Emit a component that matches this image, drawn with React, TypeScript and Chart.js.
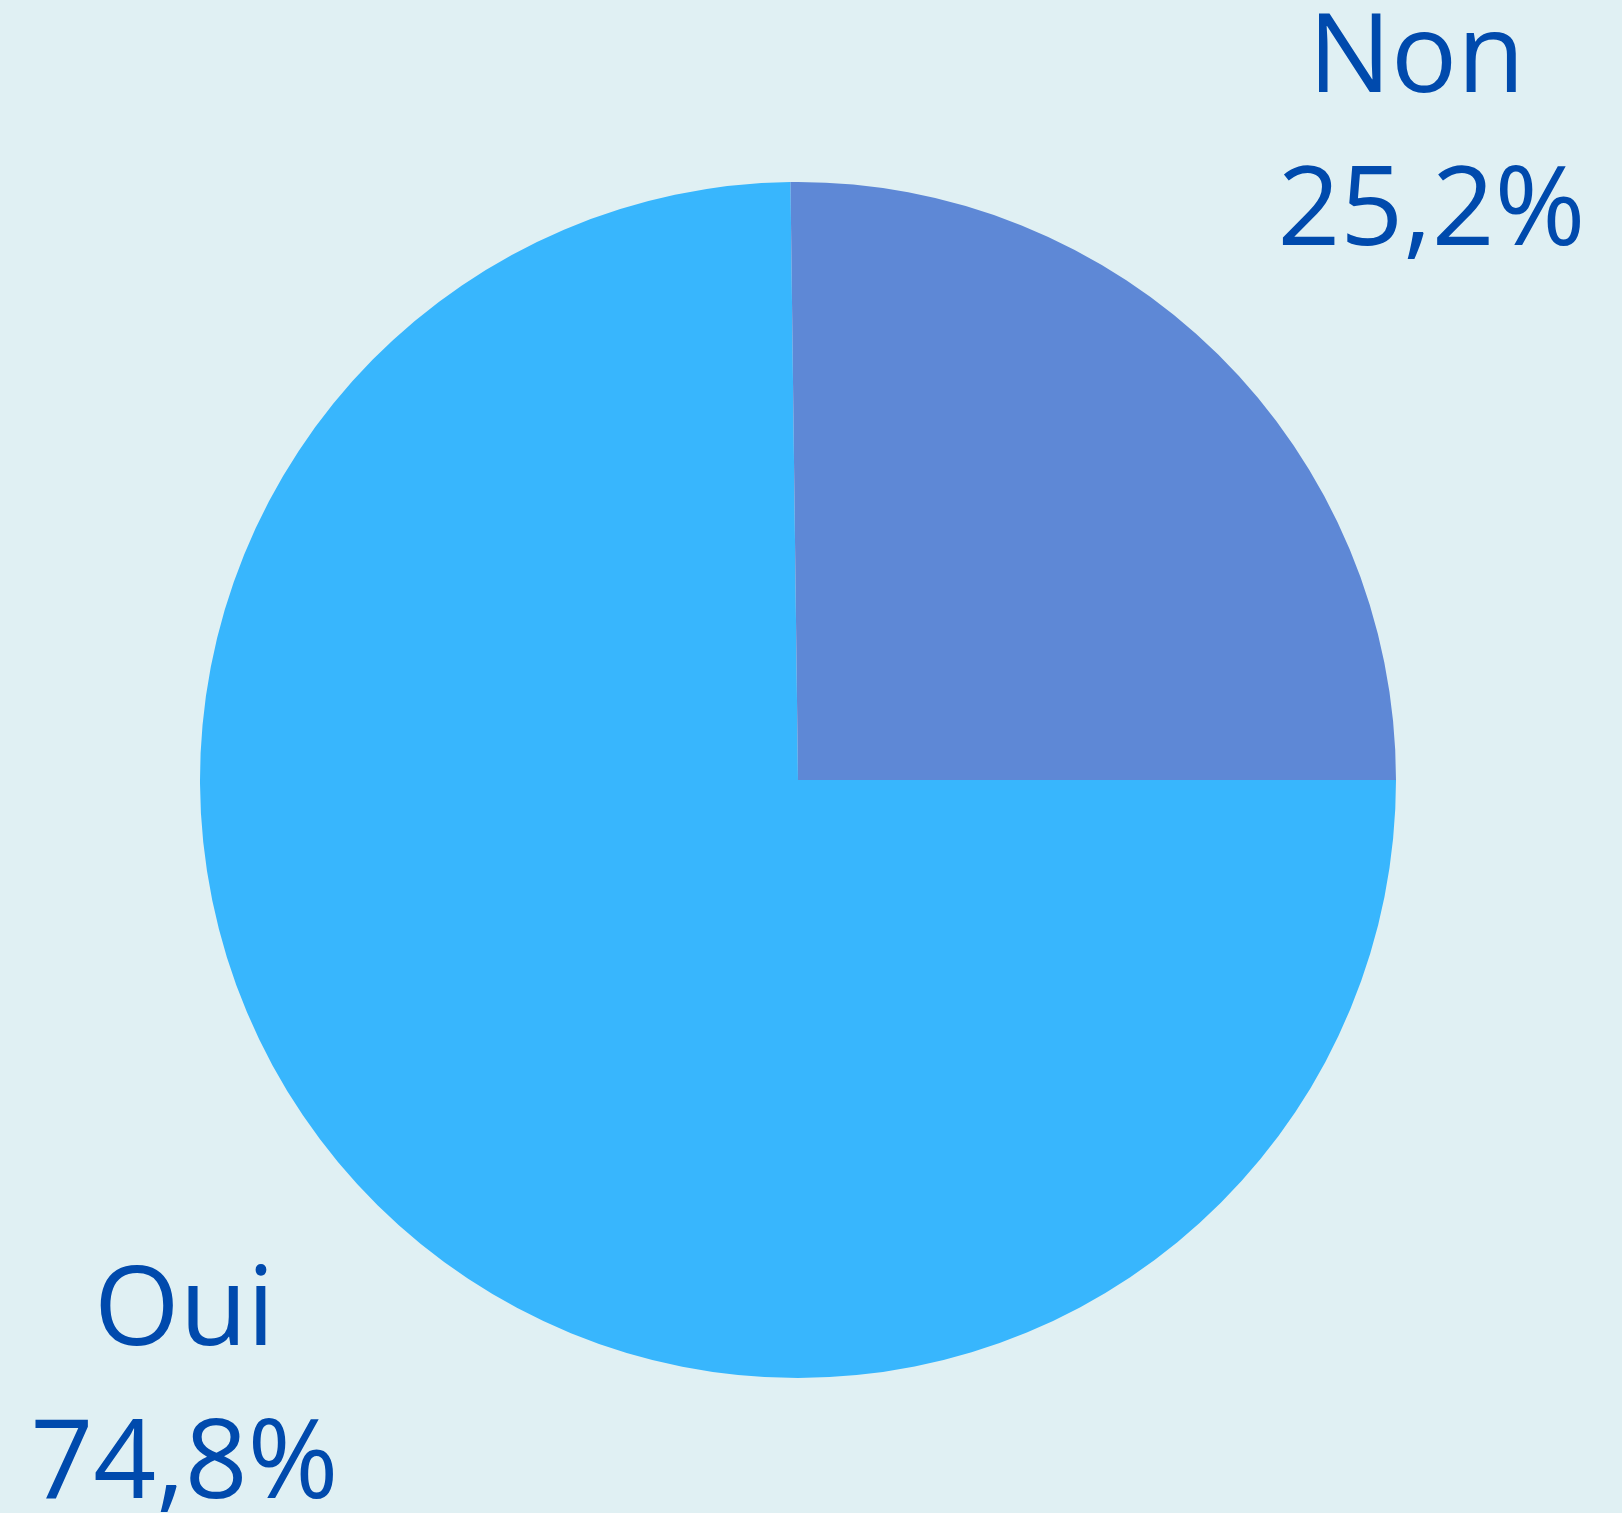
import React, { useEffect, useRef } from "react";
import { Chart, registerables } from "chart.js";

Chart.register(...registerables);

const categories = ["Oui", "Non"];
const values = [74.8, 25.2];
const sliceColors = ["#38B6FD", "#5E88D6"];
const textColor = "#004AAD";
const bgColor = "#E0F0F3";

const formatPct = (v: number) => v.toFixed(1).replace(".", ",") + "%";

const labelPlugin = {
  id: "outsideLabels",
  afterDatasetsDraw(chart: any) {
    const ctx = chart.ctx;
    const meta = chart.getDatasetMeta(0);
    // small horizontal nudges per label line (name, percentage)
    const nudges = [
      [5, 5],
      [0, 15],
    ];
    ctx.save();
    ctx.font = '110px "Open Sans"';
    ctx.fillStyle = textColor;
    ctx.textAlign = "center";
    ctx.textBaseline = "alphabetic";
    meta.data.forEach((arc: any, i: number) => {
      const { x, y, startAngle, endAngle, outerRadius } = arc.getProps(
        ["x", "y", "startAngle", "endAngle", "outerRadius"],
        true
      );
      const mid = (startAngle + endAngle) / 2;
      const d = outerRadius * 1.472;
      const ax = x + Math.cos(mid) * d;
      const ay = y + Math.sin(mid) * d;
      ctx.fillText(categories[i], ax + nudges[i][0], ay - 61.5);
      ctx.fillText(formatPct(values[i]), ax + nudges[i][1], ay + 91.5);
    });
    ctx.restore();
  },
};

export default function App() {
  const ref = useRef<HTMLCanvasElement>(null);
  useEffect(() => {
    let chart: Chart | null = null;
    let cancelled = false;
    const make = () => {
      if (cancelled || !ref.current) return;
      chart = new Chart(ref.current, {
        type: "pie",
        data: {
          labels: categories,
          datasets: [
            {
              data: values,
              backgroundColor: sliceColors,
              borderWidth: 0,
            },
          ],
        },
        options: {
          responsive: false,
          animation: false,
          rotation: 90,
          layout: { padding: { left: 200, right: 226, top: 182, bottom: 135 } },
          plugins: {
            legend: { display: false },
            tooltip: { enabled: false },
            title: { display: false },
          },
        },
        plugins: [labelPlugin],
      });
    };
    const fonts: any = (document as any).fonts;
    if (fonts && fonts.load) {
      fonts.load('110px "Open Sans"').then(make, make);
    } else {
      make();
    }
    return () => {
      cancelled = true;
      if (chart) chart.destroy();
    };
  }, []);
  return (
    <div
      style={{
        position: "fixed",
        left: 0,
        top: 0,
        width: 1622,
        height: 1513,
        background: bgColor,
      }}
    >
      <canvas ref={ref} width={1622} height={1513} style={{ display: "block" }} />
    </div>
  );
}
